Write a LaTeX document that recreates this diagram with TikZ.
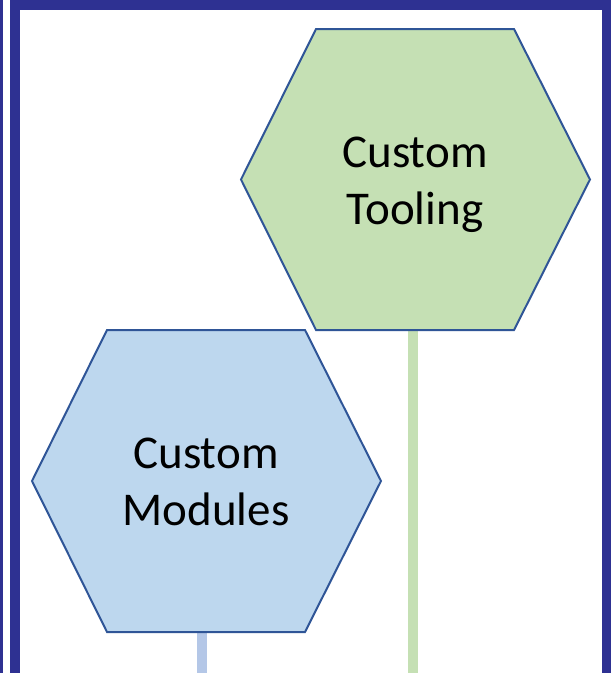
\documentclass[tikz,border=0pt]{standalone}
\usepackage{fontspec}
\setmainfont{Carlito}
\definecolor{frameblue}{HTML}{2E3192}
\definecolor{edgeblue}{HTML}{2F5597}
\definecolor{greenfill}{HTML}{C5E0B4}
\definecolor{bluefill}{HTML}{BDD7EE}
\definecolor{bluestem}{HTML}{B4C7E7}
\begin{document}
\begin{tikzpicture}[x=1pt,y=-1pt,
  hexa/.style={draw=edgeblue,line width=2pt,line join=miter},
  label/.style={font=\fontsize{47}{57}\selectfont,text=black,anchor=base,inner sep=0pt},
  stem/.style={line width=10pt}]
\useasboundingbox (0,0) rectangle (611,673);
\fill[white] (0,0) rectangle (611,673);
% frame
\fill[frameblue] (0,0) rectangle (3,673);
\fill[frameblue] (10,0) rectangle (20,673);
\fill[frameblue] (10,0) rectangle (611,10);
\fill[frameblue] (602,0) rectangle (611,673);
% stems
\coordinate (gbot) at (413,329);
\coordinate (gend) at (413,673);
\coordinate (bbot) at (202,631);
\coordinate (bend) at (202,673);
\draw[stem,greenfill] (gbot) -- (gend);
\draw[stem,bluestem] (bbot) -- (bend);
% green hexagon
\draw[hexa,fill=greenfill] (316,29) -- (514,29) -- (590,179.5) -- (514,330) -- (316,330) -- (241,179.5) -- cycle;
\node[label] (t1) at (415,167) {Custom};
\node[label] (t2) at (415,224) {Tooling};
% blue hexagon
\draw[hexa,fill=bluefill] (107,330) -- (305,330) -- (381,481) -- (305,632) -- (107,632) -- (32,481) -- cycle;
\node[label] (m1) at (206,468) {Custom};
\node[label] (m2) at (206,525) {Modules};
\end{tikzpicture}
\end{document}
